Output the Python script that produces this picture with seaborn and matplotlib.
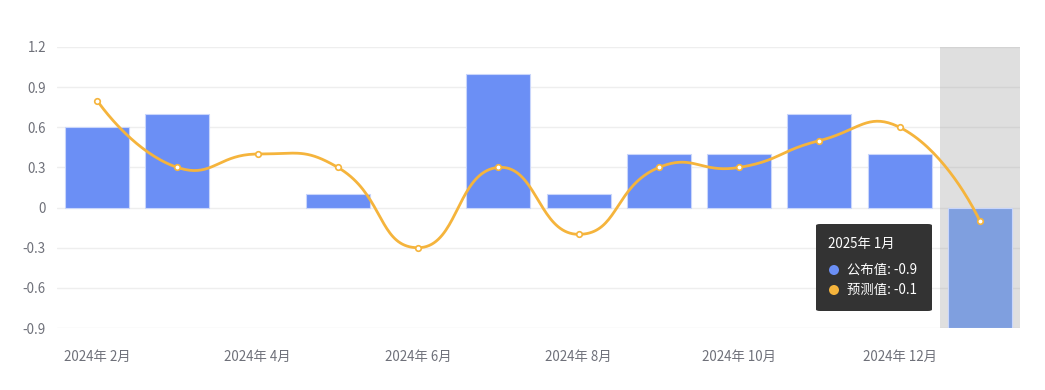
import numpy as np
import pandas as pd
import seaborn as sns
import matplotlib
matplotlib.use("Agg")
import matplotlib.pyplot as plt
from matplotlib.patches import FancyBboxPatch, Ellipse

months = ["2024年 2月", "2024年 3月", "2024年 4月", "2024年 5月", "2024年 6月", "2024年 7月",
          "2024年 8月", "2024年 9月", "2024年 10月", "2024年 11月", "2024年 12月", "2025年 1月"]
published = [0.6, 0.7, 0.0, 0.1, 0.0, 1.0, 0.1, 0.4, 0.4, 0.7, 0.4, -0.9]
forecast = [0.8, 0.3, 0.4, 0.3, -0.3, 0.3, -0.2, 0.3, 0.3, 0.5, 0.6, -0.1]
yticks = [-0.9, -0.6, -0.3, 0, 0.3, 0.6, 0.9, 1.2]
highlight = "2025年 1月"

sns.set_theme(style="white")
plt.rcParams['font.family'] = ['Noto Sans CJK SC', 'DejaVu Sans']

W, H = 1045, 390
fig = plt.figure(figsize=(W / 100, H / 100), dpi=100)
L, R, T, B = 57, 1020, 47, 328
ax = fig.add_axes([L / W, 1 - B / H, (R - L) / W, (B - T) / H])

df = pd.DataFrame({"month": months, "published": published, "forecast": forecast})
n = len(months)
hi = months.index(highlight)

for v in yticks:
    ax.axhline(v, color="#eeeeee", lw=1, zorder=0)

# shadow for highlighted category
ax.axvspan(hi - 0.5, hi + 0.5, color=(150 / 255, 150 / 255, 150 / 255, 0.3), zorder=1, lw=0)

palette = {m: ("#7f9fdf" if m == highlight else "#6b8ff5") for m in months}
sns.barplot(data=df, x="month", y="published", hue="month", palette=palette,
            order=months, hue_order=months, legend=False, width=0.8, ax=ax,
            edgecolor="#c9d6fb", linewidth=0.8, saturation=1, zorder=2)
for p in ax.patches:
    if abs(p.get_height()) < 1e-9:
        p.set_linewidth(0)

# smooth line (ECharts-like bezier smoothing)
xs = np.arange(n, dtype=float)
ys = np.array(forecast, dtype=float)
sx, sy = 80.25, 40.1 / 0.3  # pixel scale per data unit
px, py = xs * sx, ys * sy
smooth = 0.5
xmin, xmax, ymin, ymax = px.min(), px.max(), py.min(), py.max()
cps = []
for i in range(n):
    prev_i = max(i - 1, 0)
    next_i = min(i + 1, n - 1)
    vx, vy = px[next_i] - px[prev_i], py[next_i] - py[prev_i]
    d0 = np.hypot(px[i] - px[prev_i], py[i] - py[prev_i])
    d1 = np.hypot(px[next_i] - px[i], py[next_i] - py[i])
    r = d1 / (d0 + d1) if (d0 + d1) > 0 else 0.5
    if i == 0 or i == n - 1:
        c0 = (px[i], py[i]); c1 = (px[i], py[i])
    else:
        c0 = (px[i] - vx * smooth * (1 - r), py[i] - vy * smooth * (1 - r))
        c1 = (px[i] + vx * smooth * r, py[i] + vy * smooth * r)
    c0 = (np.clip(c0[0], xmin, xmax), np.clip(c0[1], ymin, ymax))
    c1 = (np.clip(c1[0], xmin, xmax), np.clip(c1[1], ymin, ymax))
    cps.append((c0, c1))
cx, cy = [], []
t = np.linspace(0, 1, 40)
for i in range(n - 1):
    p0 = np.array([px[i], py[i]]); p3 = np.array([px[i + 1], py[i + 1]])
    p1 = np.array(cps[i][1]); p2 = np.array(cps[i + 1][0])
    pts = ((1 - t) ** 3)[:, None] * p0 + (3 * (1 - t) ** 2 * t)[:, None] * p1 + \
          (3 * (1 - t) * t ** 2)[:, None] * p2 + (t ** 3)[:, None] * p3
    cx.extend(pts[:, 0] / sx); cy.extend(pts[:, 1] / sy)
ax.plot(cx, cy, color="#f5b43c", lw=2, zorder=4, solid_capstyle="round")
sns.scatterplot(x=xs, y=ys, ax=ax, color="white", edgecolor="#f5b43c", linewidth=1.2,
                s=16, zorder=5, legend=False)

ax.set_xlim(-0.5, n - 0.5)
ax.set_ylim(-0.9, 1.2)
ax.set_yticks(yticks)
ax.set_yticklabels([("0" if v == 0 else f"{v:g}") for v in yticks])
ax.set_xticks(range(0, n, 2))
ax.set_xticklabels([months[i] for i in range(0, n, 2)])
ax.tick_params(axis="both", length=0, colors="#6e7079", labelsize=9.6)
ax.tick_params(axis="x", pad=16)
ax.tick_params(axis="y", pad=8)
for s in ax.spines.values():
    s.set_visible(False)
ax.set_xlabel("")
ax.set_ylabel("")
ax.grid(False)

# tooltip
def fx(x): return x / W
def fy(y): return 1 - y / H
box = FancyBboxPatch((fx(816), fy(311)), (932 - 816) / W, (311 - 224) / H,
                     boxstyle="round,pad=0,rounding_size=0.004", transform=fig.transFigure,
                     facecolor="#333333", edgecolor="none", zorder=10)
fig.patches.append(box)
fig.text(fx(828), fy(244), "2025年 1月", color="white", fontsize=9.6, va="center", ha="left", zorder=11)
for yy, col, lab in [(270, "#6b8ff5", f"公布值: {published[hi]:g}"), (290, "#f5b43c", f"预测值: {forecast[hi]:g}")]:
    fig.patches.append(Ellipse((fx(834), fy(yy)), 10 / W, 10 / H, transform=fig.transFigure,
                               facecolor=col, edgecolor="none", zorder=11))
    fig.text(fx(847), fy(yy), lab, color="white", fontsize=9.6, va="center", ha="left", zorder=11)

fig.savefig("out.png", dpi=100)
